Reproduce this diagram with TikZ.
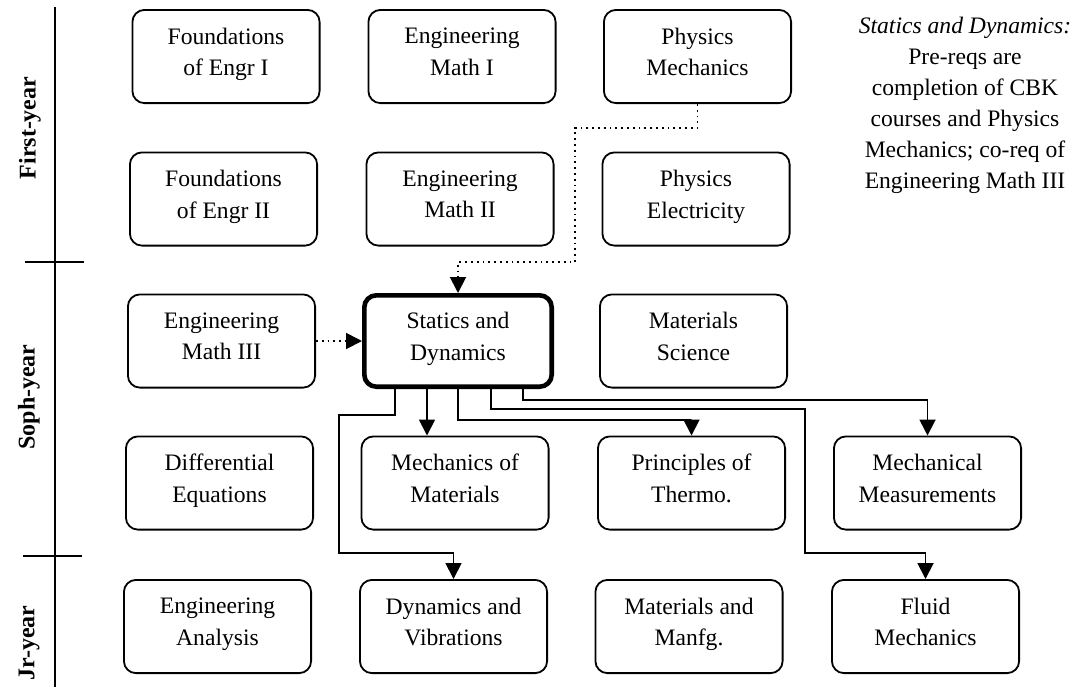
\documentclass[tikz,border=0pt]{standalone}
\usepackage{fontspec}
\setmainfont{Liberation Serif}
\usetikzlibrary{arrows.meta}

\begin{document}
\begin{tikzpicture}[x=0.5pt, y=-0.5pt,
    curso/.style={draw, line width=0.9pt, rounded corners=6pt, inner sep=0pt,
        minimum width=93.6pt, minimum height=46.6pt, align=center,
        font=\fontsize{11.8}{15.8}\selectfont,
        execute at begin node=\strut, execute at end node=\strut},
    clave/.style={curso, line width=2.3pt, minimum width=93.7pt, minimum height=45.7pt},
    anio/.style={rotate=90, font=\fontsize{12}{14}\selectfont\bfseries},
    flecha/.style={line width=0.9pt, -{Triangle[length=8pt,width=8pt]}},
    previo/.style={flecha, dotted}]
                \useasboundingbox (0,0) rectangle (1079,687);

                % Eje de los anios
                \draw[line width=0.7pt] (55,7) -- (55,687);
                \draw[line width=0.7pt] (25,262) -- (84,262);
                \draw[line width=0.7pt] (23,556) -- (82,556);
                \node[anio] (first) at (30,128) {First-year};
                \node[anio] (soph) at (29,397) {Soph-year};
                \node[anio] (jr) at (29,643) {Jr-year};

                % Primer anio
                \node[curso] (fe1) at (226,56.5) {Foundations\\of Engr I};
                \node[curso] (em1) at (462,56.5) {Engineering\\Math I};
                \node[curso] (pm) at (697.5,56.5) {Physics\\Mechanics};
                \node[curso] (fe2) at (223.5,199) {Foundations\\of Engr II};
                \node[curso] (em2) at (460,199) {Engineering\\Math II};
                \node[curso] (pe) at (696,199) {Physics\\Electricity};

                % Segundo anio
                \node[curso] (em3) at (221.5,341) {Engineering\\Math III};
                \node[clave] (sd) at (458,341) {Statics and\\Dynamics};
                \node[curso] (ms) at (693.5,341) {Materials\\Science};
                \node[curso] (de) at (219.5,483) {Differential\\Equations};
                \node[curso] (mom) at (455,483) {Mechanics of\\Materials};
                \node[curso] (pt) at (691.5,483) {Principles of\\Thermo.};
                \node[curso] (mm) at (927.5,483) {Mechanical\\Measurements};

                % Tercer anio
                \node[curso] (ea) at (217.5,626.5) {Engineering\\Analysis};
                \node[curso] (dv) at (453.5,626.5) {Dynamics and\\Vibrations};
                \node[curso] (mmf) at (689,626.5) {Materials and\\Manfg.};
                \node[curso] (fm) at (925.5,626.5) {Fluid\\Mechanics};

                % Nota
                \node[align=center, font=\fontsize{11.8}{15.5}\selectfont] (nota) at (965,105)
                    {\textit{Statics and Dynamics:}\\Pre-reqs are\\completion of CBK\\courses and Physics\\Mechanics; co-req of\\Engineering Math III};

                % Requisitos
                \draw[previo] (pm.south) -- ++(0,24) -| (575,262) -| (sd.north);
                \draw[previo] (em3.east) -- (sd.west);

                % Cursos que siguen
                \draw[flecha] (sd.south) ++(-63,0) -- ++(0,26) -| (339,553) -| (dv.north);
                \draw[flecha] (sd.south) ++(-31,0) coordinate (s2) -- (s2 |- mom.north);
                \draw[flecha] (sd.south) -- ++(0,31) -| (pt.north);
                \draw[flecha] (sd.south) ++(33,0) -- ++(0,20) -| (805,553) -| (fm.north);
                \draw[flecha] (sd.south) ++(65,0) -- ++(0,11) -| (mm.north);
            \end{tikzpicture}
\end{document}
